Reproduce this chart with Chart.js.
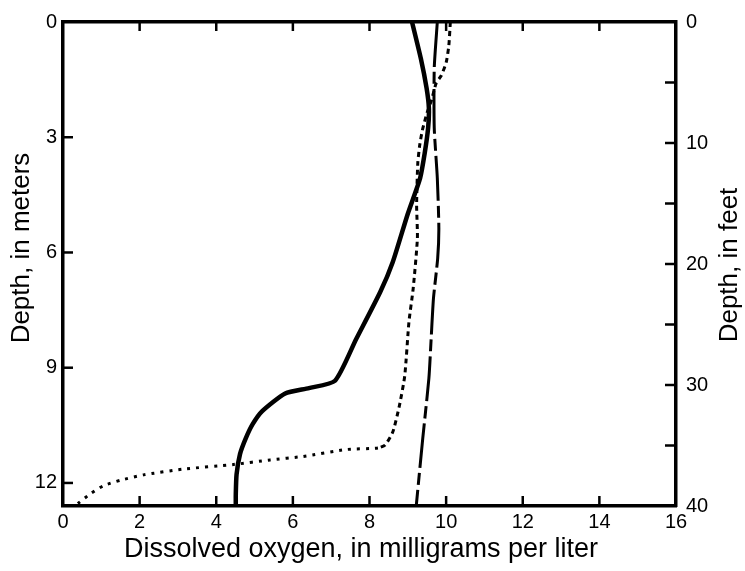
<!DOCTYPE html>
<html>
<head>
<meta charset="utf-8">
<script src="https://cdn.jsdelivr.net/npm/chart.js@4.4.1/dist/chart.umd.min.js"></script>
<style>
  body { margin: 0; background: #fff; }
  canvas { display: block; }
</style>
</head>
<body>
<canvas id="chart" width="745" height="571"></canvas>
<script>
// axis ticks
const oxygenTicks = [0, 2, 4, 6, 8, 10, 12, 14, 16];
const meterTicks = [0, 3, 6, 9, 12];
const feetTicks = [0, 10, 20, 30, 40];
const feetMinorTicks = [5, 15, 25, 35];

// solid profile
const solidOxygen = [9.11, 9.34, 9.49, 9.55, 9.53, 9.44, 9.32, 9.00, 8.61, 8.28, 7.65, 7.10, 6.42, 5.80, 5.20, 4.95, 4.77, 4.62, 4.53, 4.51, 4.51];
const solidDepth  = [0, 0.95, 1.72, 2.24, 2.76, 3.42, 4.07, 4.99, 6.24, 7.03, 8.26, 9.34, 9.53, 9.67, 10.13, 10.47, 10.84, 11.25, 11.78, 12.30, 12.6];

// long dashed profile
const dashOxygen = [9.77, 9.69, 9.69, 9.77, 9.81, 9.78, 9.67, 9.61, 9.55, 9.39, 9.22];
const dashDepth  = [0, 1.2, 2.76, 4.06, 5.36, 6.15, 7.19, 8.23, 9.28, 10.84, 12.6];

// dotted profile
const dotOxygen = [10.11, 10.07, 10.00, 9.87, 9.74, 9.62, 9.50, 9.38, 9.31, 9.26, 9.23, 9.25, 9.14, 9.03, 8.92, 8.78, 8.61, 8.41, 8.22, 7.39, 6.27, 5.41, 4.45, 3.14, 2.10, 1.50, 1.06, 0.72, 0.41, 0.33];
const dotDepth  = [0, 0.62, 1.06, 1.40, 1.59, 2.03, 2.37, 2.82, 3.21, 3.68, 4.77, 5.63, 6.94, 7.80, 9.21, 9.99, 10.67, 11.01, 11.09, 11.13, 11.31, 11.40, 11.52, 11.64, 11.79, 11.93, 12.07, 12.28, 12.52, 12.6];

const FONT = '"Liberation Sans", Arial, sans-serif';

function pairs(xs, ys) {
  return ys.map((y, i) => ({ x: xs[i], y: y }));
}

function setTicks(values) {
  return scale => { scale.ticks = values.map(v => ({ value: v })); };
}

// inward tick marks on all four sides
const tickMarks = {
  id: 'tickMarks',
  afterDraw(chart) {
    const { ctx, chartArea: a, scales } = chart;
    ctx.save();
    ctx.strokeStyle = '#000';
    ctx.lineWidth = 2.5;
    function line(x1, y1, x2, y2) {
      ctx.beginPath(); ctx.moveTo(x1, y1); ctx.lineTo(x2, y2); ctx.stroke();
    }
    oxygenTicks.slice(1, -1).forEach(v => {
      const px = scales.x.getPixelForValue(v);
      line(px, a.bottom, px, a.bottom - 10);
      line(px, a.top, px, a.top + 9);
    });
    meterTicks.slice(1).forEach(v => {
      const py = scales.y.getPixelForValue(v);
      line(a.left, py, a.left + 10, py);
    });
    feetTicks.slice(1, -1).concat(feetMinorTicks).forEach(v => {
      const py = scales.y2.getPixelForValue(v);
      line(a.right, py, a.right - 11, py);
    });
    ctx.restore();
  }
};

// axis titles
const axisTitles = {
  id: 'axisTitles',
  afterDraw(chart) {
    const ctx = chart.ctx;
    ctx.save();
    ctx.fillStyle = '#000';
    ctx.font = '27px ' + FONT;
    ctx.textAlign = 'center';
    ctx.textBaseline = 'middle';
    ctx.fillText('Dissolved oxygen, in milligrams per liter', 361, 550);
    ctx.restore();

    ctx.save();
    ctx.fillStyle = '#000';
    ctx.font = '26px ' + FONT;
    ctx.textAlign = 'center';
    ctx.textBaseline = 'middle';
    ctx.translate(22, 248);
    ctx.rotate(-Math.PI / 2);
    ctx.fillText('Depth, in meters', 0, 0);
    ctx.restore();

    ctx.save();
    ctx.fillStyle = '#000';
    ctx.font = '26px ' + FONT;
    ctx.textAlign = 'center';
    ctx.textBaseline = 'middle';
    ctx.translate(730, 265);
    ctx.rotate(-Math.PI / 2);
    ctx.fillText('Depth, in feet', 0, 0);
    ctx.restore();
  }
};

const tickFont = { family: FONT, size: 20 };
const border = { display: true, color: '#000', width: 3.5 };

new Chart(document.getElementById('chart'), {
  type: 'scatter',
  data: {
    datasets: [
      {
        label: 'solid',
        data: pairs(solidOxygen, solidDepth),
        showLine: true,
        borderColor: '#000',
        borderWidth: 4.5,
        pointRadius: 0,
        tension: 0.2
      },
      {
        label: 'dashed',
        data: pairs(dashOxygen, dashDepth),
        showLine: true,
        borderColor: '#000',
        borderWidth: 3,
        borderDash: [45, 5, 12, 5],
        pointRadius: 0,
        tension: 0.2
      },
      {
        label: 'dotted',
        data: pairs(dotOxygen, dotDepth),
        showLine: true,
        borderColor: '#000',
        borderWidth: 3,
        pointRadius: 0,
        tension: 0.2,
        segment: {
          borderDash: c => c.p0.parsed.y > 11.05 ? [3, 6] : [5, 4]
        }
      }
    ]
  },
  options: {
    responsive: false,
    devicePixelRatio: 1,
    animation: false,
    layout: { padding: 0 },
    plugins: {
      legend: { display: false },
      tooltip: { enabled: false }
    },
    scales: {
      x: {
        type: 'linear',
        position: 'bottom',
        min: 0,
        max: 16,
        afterBuildTicks: setTicks(oxygenTicks),
        afterFit: s => { s.height = 65; },
        ticks: { color: '#000', font: tickFont, padding: 4, maxRotation: 0 },
        grid: { display: false, drawTicks: false },
        border: border
      },
      x2: {
        type: 'linear',
        position: 'top',
        min: 0,
        max: 16,
        afterFit: s => { s.height = 22; },
        ticks: { display: false },
        grid: { display: false, drawTicks: false },
        border: border
      },
      y: {
        type: 'linear',
        position: 'left',
        reverse: true,
        min: 0,
        max: 12.6,
        afterBuildTicks: setTicks(meterTicks),
        afterFit: s => { s.width = 63; },
        ticks: { color: '#000', font: tickFont, padding: 6 },
        grid: { display: false, drawTicks: false },
        border: border
      },
      y2: {
        type: 'linear',
        position: 'right',
        reverse: true,
        min: 0,
        max: 40,
        afterBuildTicks: setTicks(feetTicks),
        afterFit: s => { s.width = 69; },
        ticks: { color: '#000', font: tickFont, padding: 10 },
        grid: { display: false, drawTicks: false },
        border: border
      }
    }
  },
  plugins: [tickMarks, axisTitles]
});
</script>
</body>
</html>
